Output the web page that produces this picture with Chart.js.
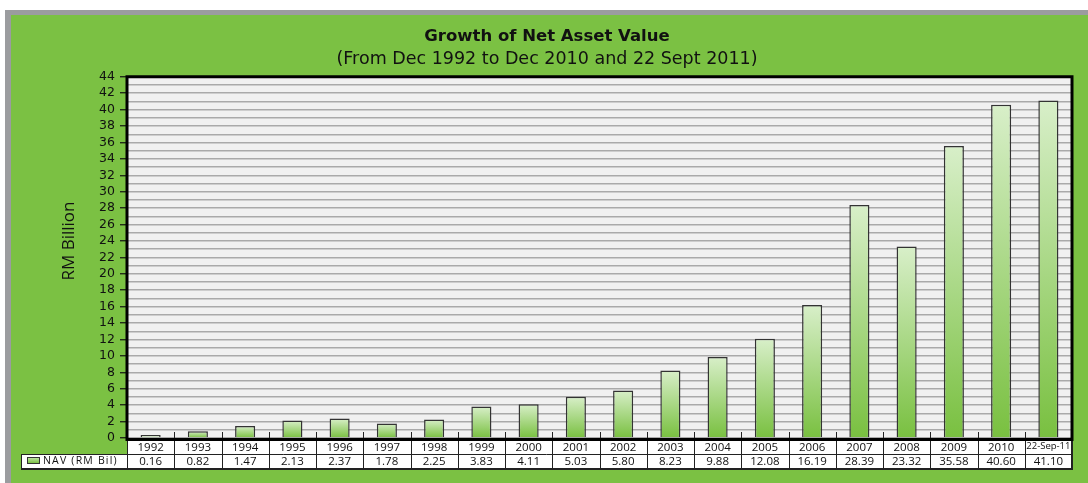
<!DOCTYPE html>
<html lang="en">
<head>
  <meta charset="UTF-8" />
  <title>Growth of Net Asset Value</title>
  <script src="https://cdn.jsdelivr.net/npm/chart.js"></script>
  <style>
    html, body { margin: 0; padding: 0; background: #fff; overflow: hidden; }
    .frame {
      position: absolute; left: 5px; top: 10px; width: 1100px; height: 490px;
      border-left: 6px solid #9b9c9f; border-top: 5px solid #9b9c9f;
      background: #7bc143;
    }
    .wrap { position: absolute; left: 0; top: 0; width: 1088px; height: 483px; }
  </style>
</head>
<body>
  <div class="frame"></div>
  <div class="wrap"><canvas id="nav-chart" width="1088" height="483"></canvas></div>

  <script>
    const years = ['1992', '1993', '1994', '1995', '1996', '1997', '1998', '1999', '2000', '2001',
      '2002', '2003', '2004', '2005', '2006', '2007', '2008', '2009', '2010', '22-Sep-11'];
    const navValues = [0.16, 0.82, 1.47, 2.13, 2.37, 1.78, 2.25, 3.83, 4.11, 5.03,
      5.80, 8.23, 9.88, 12.08, 16.19, 28.39, 23.32, 35.58, 40.60, 41.10];
    const seriesLabel = 'NAV (RM Bil)';
    const yTitle = 'RM Billion';

    const FONT = "'Open Sans', 'DejaVu Sans', sans-serif";
    const TITLE_FONT = "'DejaVu Sans', sans-serif";
    const ROW1 = 16, ROW2 = 14, LEGEND_LEFT = 21;

    // plot background + white table cells (before scales draw their labels)
    const backdrop = {
      id: 'backdrop',
      beforeDraw(chart) {
        const { ctx, chartArea: a } = chart;
        ctx.save();
        ctx.fillStyle = '#f0f0f0';
        ctx.fillRect(a.left, a.top, a.right - a.left, a.bottom - a.top);
        ctx.fillStyle = '#ffffff';
        ctx.fillRect(a.left, a.bottom, a.right - a.left, ROW1);
        ctx.fillRect(LEGEND_LEFT, a.bottom + ROW1, a.right - LEGEND_LEFT, ROW2);
        ctx.restore();
      }
    };

    // data table lines, values row, legend key, frame, y title
    const dataTable = {
      id: 'dataTable',
      afterDraw(chart) {
        const { ctx, chartArea: a, scales: { x } } = chart;
        const w = (a.right - a.left) / years.length;
        const r1 = a.bottom + ROW1, r2 = r1 + ROW2;
        ctx.save();

        ctx.strokeStyle = '#222';
        ctx.lineWidth = 1;
        ctx.beginPath();
        ctx.moveTo(LEGEND_LEFT, r1 + 0.5); ctx.lineTo(a.right, r1 + 0.5);
        ctx.moveTo(LEGEND_LEFT, r2 + 0.5); ctx.lineTo(a.right, r2 + 0.5);
        ctx.moveTo(LEGEND_LEFT + 0.5, r1); ctx.lineTo(LEGEND_LEFT + 0.5, r2);
        ctx.moveTo(a.left + 0.5, a.bottom); ctx.lineTo(a.left + 0.5, r2);
        for (let i = 0; i < years.length - 1; i++) {
          const bx = Math.round(x.getPixelForValue(i) + w / 2) + 0.5;
          ctx.moveTo(bx, a.bottom - 6); ctx.lineTo(bx, r2);
        }
        ctx.stroke();

        ctx.lineWidth = 2;
        ctx.beginPath();
        ctx.moveTo(a.right, a.bottom); ctx.lineTo(a.right, r2 + 1);
        ctx.moveTo(LEGEND_LEFT, r2 + 1); ctx.lineTo(a.right + 1, r2 + 1);
        ctx.stroke();

        // values row
        ctx.fillStyle = '#111';
        ctx.font = `11.5px ${FONT}`;
        ctx.textAlign = 'center';
        ctx.textBaseline = 'middle';
        navValues.forEach((v, i) => {
          ctx.fillText(v.toFixed(2), x.getPixelForValue(i), r1 + ROW2 / 2 + 0.5);
        });

        // legend key
        const kg = ctx.createLinearGradient(0, r1 + 3, 0, r1 + 9);
        kg.addColorStop(0, '#c9e8b2');
        kg.addColorStop(1, '#7bc143');
        ctx.fillStyle = kg;
        ctx.fillRect(27, r1 + 3.5, 12, 6);
        ctx.strokeStyle = '#333';
        ctx.lineWidth = 1;
        ctx.strokeRect(27.5, r1 + 3.5, 12, 6);
        ctx.fillStyle = '#111';
        ctx.font = `10.5px ${FONT}`;
        ctx.textAlign = 'left';
        if ('letterSpacing' in ctx) ctx.letterSpacing = '1.2px';
        ctx.fillText(seriesLabel, 43, r1 + ROW2 / 2 + 0.5);
        if ('letterSpacing' in ctx) ctx.letterSpacing = '0px';

        // plot frame (bottom axis line sits just under the bar bases)
        ctx.strokeStyle = '#000';
        ctx.lineWidth = 3;
        ctx.beginPath();
        ctx.moveTo(a.left, a.bottom + 1.5); ctx.lineTo(a.left, a.top);
        ctx.lineTo(a.right, a.top); ctx.lineTo(a.right, a.bottom + 1.5);
        ctx.moveTo(a.left - 1.5, a.bottom + 1.5); ctx.lineTo(a.right + 1.5, a.bottom + 1.5);
        ctx.stroke();

        // y axis title
        ctx.translate(69, 241);
        ctx.rotate(-Math.PI / 2);
        ctx.fillStyle = '#111';
        ctx.font = `17px ${FONT}`;
        ctx.textAlign = 'center';
        ctx.fillText(yTitle, 0, 0);
        ctx.restore();
      }
    };

    const ctx = document.getElementById('nav-chart').getContext('2d');
    new Chart(ctx, {
      type: 'bar',
      data: {
        labels: years,
        datasets: [{
          label: seriesLabel,
          data: navValues,
          backgroundColor: c => {
            const chart = c.chart;
            if (!chart.chartArea || !c.parsed) return '#a9d98a';
            const y = chart.scales.y;
            const top = y.getPixelForValue(c.parsed.y);
            const base = y.getPixelForValue(0);
            const g = chart.ctx.createLinearGradient(0, top, 0, base);
            g.addColorStop(0, '#d8efc9');
            g.addColorStop(1, '#79c040');
            return g;
          },
          borderColor: '#333',
          borderWidth: 1.5,
          minBarLength: 3,
          categoryPercentage: 0.85,
          barPercentage: 0.5
        }]
      },
      options: {
        responsive: false,
        animation: false,
        layout: { padding: { left: 22, right: 16, top: 0, bottom: 0 } },
        plugins: {
          legend: { display: false },
          tooltip: { enabled: false },
          title: {
            display: true,
            text: 'Growth of Net Asset Value',
            color: '#111',
            font: { family: TITLE_FONT, size: 16.5, weight: 'bold' },
            padding: { top: 27, bottom: 2 }
          },
          subtitle: {
            display: true,
            text: '(From Dec 1992 to Dec 2010 and 22 Sept 2011)',
            color: '#111',
            font: { family: TITLE_FONT, size: 17.5 },
            padding: { top: 0, bottom: 7 }
          }
        },
        scales: {
          x: {
            grid: { display: false, drawTicks: false },
            border: { display: false },
            ticks: {
              color: '#111',
              font: { family: FONT, size: c => (c.index === years.length - 1 ? 9.5 : 11.5) },
              padding: 3,
              autoSkip: false,
              maxRotation: 0
            },
            afterFit: s => { s.height = 45; s.paddingRight = 0; }
          },
          y: {
            min: 0,
            max: 44,
            border: { display: false },
            grid: {
              color: '#a9a9a9',
              lineWidth: 1.5,
              tickLength: 7,
              tickColor: c => (c.tick && c.tick.value % 2 === 0 ? '#111' : 'rgba(0,0,0,0)'),
              tickWidth: 1.2
            },
            ticks: {
              stepSize: 1,
              autoSkip: false,
              color: '#111',
              font: { family: TITLE_FONT, size: 12.5 },
              padding: 5,
              callback: v => (v % 2 === 0 ? v : '')
            },
            afterFit: s => { s.width = 105; }
          }
        }
      },
      plugins: [backdrop, dataTable]
    });
  </script>
</body>
</html>
